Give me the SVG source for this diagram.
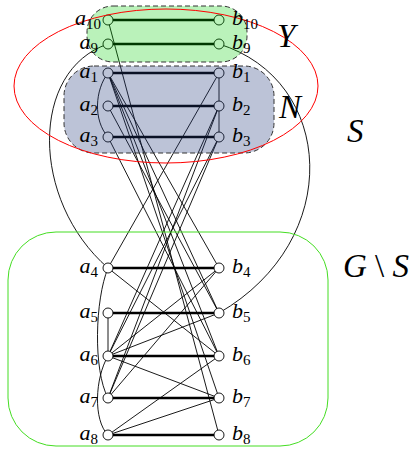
<svg xmlns="http://www.w3.org/2000/svg" width="417" height="450" viewBox="0 0 417 450">
<style>
.m{stroke:#000;stroke-width:2.6;fill:none}
.e{stroke:#000;stroke-width:0.9;fill:none}
.n{fill:#fff;stroke:#000;stroke-width:0.9}
.reg{stroke:#333;stroke-width:1;stroke-dasharray:5,3}
.t{font-family:"Liberation Serif","DejaVu Serif",serif;font-style:italic;font-size:22px;fill:#000}
.s{font-style:normal;font-size:15px}
.big{font-family:"Liberation Serif","DejaVu Serif",serif;font-style:italic;font-size:33px;fill:#000}
</style>
<rect width="417" height="450" fill="#fff"/>
<g id="connectors">
<line class="m" x1="108" y1="20" x2="219" y2="20"/>
<line class="m" x1="108" y1="44" x2="219" y2="44"/>
<line class="m" x1="108" y1="73" x2="219" y2="73"/>
<line class="m" x1="108" y1="106" x2="219" y2="106"/>
<line class="m" x1="108" y1="137" x2="219" y2="137"/>
<line class="m" x1="108" y1="268" x2="219" y2="268"/>
<line class="m" x1="108" y1="313" x2="219" y2="313"/>
<line class="m" x1="108" y1="356" x2="219" y2="356"/>
<line class="m" x1="108" y1="398" x2="219" y2="398"/>
<line class="m" x1="108" y1="435" x2="219" y2="435"/>
<line class="e" x1="108" y1="20" x2="219" y2="435"/>
<line class="e" x1="108" y1="73" x2="219" y2="268"/>
<line class="e" x1="108" y1="73" x2="219" y2="313"/>
<line class="e" x1="108" y1="73" x2="219" y2="356"/>
<line class="e" x1="108" y1="73" x2="219" y2="398"/>
<line class="e" x1="108" y1="106" x2="219" y2="313"/>
<line class="e" x1="108" y1="137" x2="219" y2="356"/>
<line class="e" x1="219" y1="73" x2="108" y2="268"/>
<line class="e" x1="219" y1="106" x2="108" y2="356"/>
<line class="e" x1="219" y1="106" x2="108" y2="398"/>
<line class="e" x1="219" y1="137" x2="108" y2="356"/>
<line class="e" x1="219" y1="137" x2="108" y2="398"/>
<line class="e" x1="219" y1="268" x2="108" y2="356"/>
<line class="e" x1="219" y1="268" x2="108" y2="398"/>
<line class="e" x1="219" y1="313" x2="108" y2="356"/>
<line class="e" x1="108" y1="268" x2="219" y2="356"/>
<line class="e" x1="108" y1="356" x2="219" y2="398"/>
<line class="e" x1="219" y1="356" x2="108" y2="435"/>
<line class="e" x1="219" y1="398" x2="108" y2="435"/>
<line class="e" x1="219" y1="73" x2="219" y2="137"/>
<line class="e" x1="108" y1="313" x2="108" y2="356"/>
<path class="e" d="M108,73 C95,90 93,120 108,137"/>
<path class="e" d="M108,268 C95,300 93,370 108,398"/>
<path class="e" d="M108,356 C95,378 93,420 108,435"/>
<path class="e" d="M108,44 C30,70 30,200 108,268"/>
<path class="e" d="M219,44 C335,80 345,240 219,313"/>
</g>
<g id="a10"><circle class="n" cx="108" cy="20" r="5"/></g>
<g id="b10"><circle class="n" cx="219" cy="20" r="5"/></g>
<g id="a9"><circle class="n" cx="108" cy="44" r="5"/></g>
<g id="b9"><circle class="n" cx="219" cy="44" r="5"/></g>
<g id="a1"><circle class="n" cx="108" cy="73" r="5"/></g>
<g id="b1"><circle class="n" cx="219" cy="73" r="5"/></g>
<g id="a2"><circle class="n" cx="108" cy="106" r="5"/></g>
<g id="b2"><circle class="n" cx="219" cy="106" r="5"/></g>
<g id="a3"><circle class="n" cx="108" cy="137" r="5"/></g>
<g id="b3"><circle class="n" cx="219" cy="137" r="5"/></g>
<g id="a4"><circle class="n" cx="108" cy="268" r="5"/></g>
<g id="b4"><circle class="n" cx="219" cy="268" r="5"/></g>
<g id="a5"><circle class="n" cx="108" cy="313" r="5"/></g>
<g id="b5"><circle class="n" cx="219" cy="313" r="5"/></g>
<g id="a6"><circle class="n" cx="108" cy="356" r="5"/></g>
<g id="b6"><circle class="n" cx="219" cy="356" r="5"/></g>
<g id="a7"><circle class="n" cx="108" cy="398" r="5"/></g>
<g id="b7"><circle class="n" cx="219" cy="398" r="5"/></g>
<g id="a8"><circle class="n" cx="108" cy="435" r="5"/></g>
<g id="b8"><circle class="n" cx="219" cy="435" r="5"/></g>
<g id="Y">
<rect x="87" y="6" width="160" height="56" rx="26" ry="26" fill="#00d000" fill-opacity="0.27"/>
<rect class="reg" x="87" y="6" width="160" height="56" rx="26" ry="26" fill="none"/>
</g>
<g id="N">
<rect x="64" y="66" width="210" height="87" rx="30" ry="30" fill="#20377a" fill-opacity="0.3"/>
<rect class="reg" x="64" y="66" width="210" height="87" rx="30" ry="30" fill="none"/>
</g>
<g id="S"><ellipse cx="166" cy="86" rx="152" ry="77" fill="none" stroke="#ff0000" stroke-width="1"/></g>
<g id="GS"><rect x="8" y="232" width="320" height="214" rx="48" ry="48" fill="none" stroke="#44dd22" stroke-width="1"/></g>
<g id="labels">
<text class="t" x="101" y="25" text-anchor="end">a<tspan class="s" dy="4">10</tspan></text>
<text class="t" x="98" y="49" text-anchor="end">a<tspan class="s" dy="4">9</tspan></text>
<text class="t" x="98" y="78" text-anchor="end">a<tspan class="s" dy="4">1</tspan></text>
<text class="t" x="98" y="111" text-anchor="end">a<tspan class="s" dy="4">2</tspan></text>
<text class="t" x="98" y="142" text-anchor="end">a<tspan class="s" dy="4">3</tspan></text>
<text class="t" x="98" y="273" text-anchor="end">a<tspan class="s" dy="4">4</tspan></text>
<text class="t" x="98" y="318" text-anchor="end">a<tspan class="s" dy="4">5</tspan></text>
<text class="t" x="98" y="361" text-anchor="end">a<tspan class="s" dy="4">6</tspan></text>
<text class="t" x="98" y="403" text-anchor="end">a<tspan class="s" dy="4">7</tspan></text>
<text class="t" x="98" y="440" text-anchor="end">a<tspan class="s" dy="4">8</tspan></text>
<text class="t" x="232" y="25">b<tspan class="s" dy="4">10</tspan></text>
<text class="t" x="232" y="49">b<tspan class="s" dy="4">9</tspan></text>
<text class="t" x="232" y="78">b<tspan class="s" dy="4">1</tspan></text>
<text class="t" x="232" y="111">b<tspan class="s" dy="4">2</tspan></text>
<text class="t" x="232" y="142">b<tspan class="s" dy="4">3</tspan></text>
<text class="t" x="232" y="273">b<tspan class="s" dy="4">4</tspan></text>
<text class="t" x="232" y="318">b<tspan class="s" dy="4">5</tspan></text>
<text class="t" x="232" y="361">b<tspan class="s" dy="4">6</tspan></text>
<text class="t" x="232" y="403">b<tspan class="s" dy="4">7</tspan></text>
<text class="t" x="232" y="440">b<tspan class="s" dy="4">8</tspan></text>
<text class="big" x="277" y="47">Y</text>
<text class="big" x="279" y="118">N</text>
<text class="big" x="347" y="142">S</text>
<text class="big" x="343" y="277">G <tspan font-style="normal">\</tspan> S</text>
</g>
</svg>
